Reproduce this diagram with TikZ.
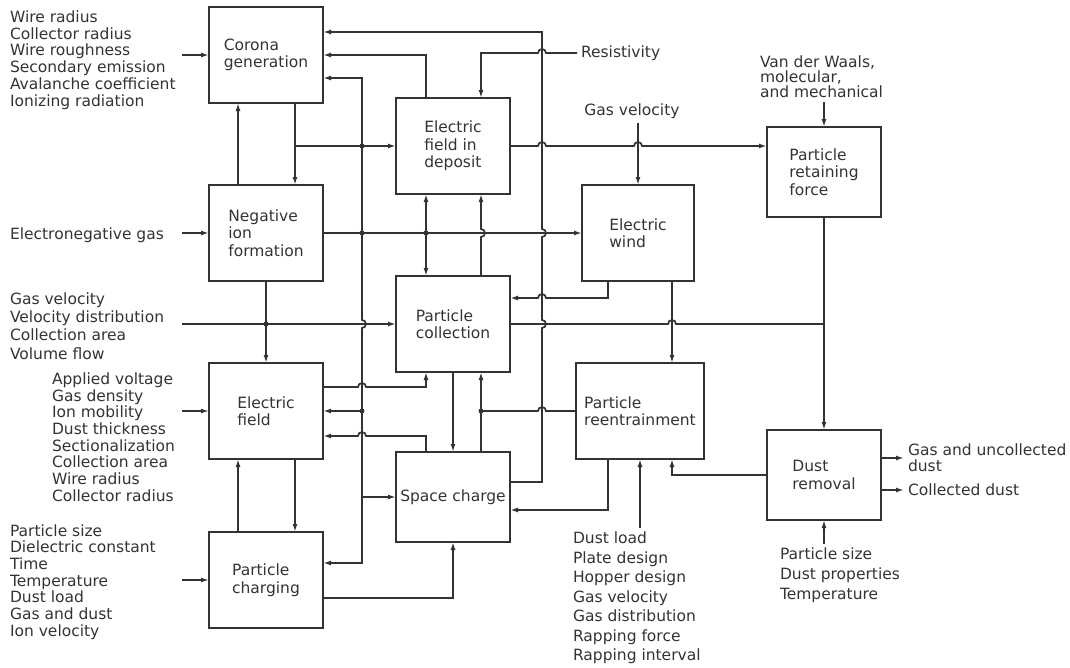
\documentclass[tikz,border=0pt]{standalone}
\usepackage{fontspec}
\setmainfont{DejaVu Sans}
\usepackage{tikz}
\usetikzlibrary{arrows.meta, positioning}

\begin{document}
\begin{tikzpicture}[
  x=1pt, y=-1pt,
  line width=1.7pt,
  color=black!80,
  >={Latex[length=8pt,width=5pt]},
  block/.style={
    draw,
    minimum width=114pt,
    minimum height=96pt,
    inner sep=2pt,
    outer sep=0pt,
    align=left,
    font=\fontsize{15.5}{17.5}\selectfont
  },
  txt/.style={align=left, inner sep=4pt, outer sep=0pt, font=\fontsize{15.5}{16.7}\selectfont},
  hop/.style={insert path={-- ([xshift=-4pt]#1) arc[start angle=180,end angle=0,radius=4pt]}},
  vhop/.style={insert path={-- ([yshift=4pt]#1) arc[start angle=90,end angle=-90,radius=4pt]}}
]
\useasboundingbox (0,0) rectangle (1070,667);
\coordinate (cin) at (182,0);
\coordinate (cA) at (238,0);
\coordinate (cB) at (295,0);
\coordinate (bus) at (362,0);
\coordinate (cC) at (426,0);
\coordinate (cD) at (481,0);
\coordinate (cE) at (542,0);
\coordinate (cF) at (608,0);
\coordinate (cG) at (672,0);

\node[block] (cor) at (266,55) {Corona\\generation};
\node[block, below=82pt of cor] (neg) {Negative\\ion\\formation};
\node[block, below=82pt of neg] (ef) {Electric\\field};
\node[block, below=73pt of ef] (pch) {Particle\\charging};
\node[block] (efd) at (453,146) {Electric\\field in\\deposit};
\node[block, below=82pt of efd] (pc) {Particle\\collection};
\node[block, minimum height=90pt, below=80pt of pc] (sc) {Space charge};
\node[block, minimum width=112pt] (ew) at (638,233) {Electric\\wind};
\node[block, minimum width=128pt] (pr) at (640,411) {Particle\\reentrainment};
\node[block, minimum height=90pt] (prf) at (824,172) {Particle\\retaining\\force};
\node[block, minimum height=90pt, below=213pt of prf] (dr) {Dust\\removal};

\node[txt, anchor=west] (corlst) at (6,60)
  {Wire radius\\Collector radius\\Wire roughness\\Secondary emission\\Avalanche coefficient\\Ionizing radiation};
\node[txt, anchor=west] (engas) at (6,235) {Electronegative gas};
\node[txt, anchor=west, font=\fontsize{15.5}{18.3}\selectfont] (gaslst) at (6,326)
  {Gas velocity\\Velocity distribution\\Collection area\\Volume flow};
\node[txt, anchor=west] (eflst) at (48,437)
  {Applied voltage\\Gas density\\Ion mobility\\Dust thickness\\Sectionalization\\Collection area\\Wire radius\\Collector radius};
\node[txt, anchor=west] (pchlst) at (6,582)
  {Particle size\\Dielectric constant\\Time\\Temperature\\Dust load\\Gas and dust\\Ion velocity};
\node[txt, anchor=west] (resist) at (577,53) {Resistivity};
\node[txt] (gasvel) at (632,111.5) {Gas velocity};
\node[txt, anchor=west, font=\fontsize{15.5}{15}\selectfont] (vdw) at (756,77)
  {Van der Waals,\\molecular,\\and mechanical};
\node[txt, anchor=north west, font=\fontsize{15.5}{19.5}\selectfont] (dustlst) at (569,528)
  {Dust load\\Plate design\\Hopper design\\Gas velocity\\Gas distribution\\Rapping force\\Rapping interval};
\node[txt, anchor=north west, font=\fontsize{15.5}{20}\selectfont] (drlst) at (776,544)
  {Particle size\\Dust properties\\Temperature};
\node[txt, anchor=west, font=\fontsize{15.5}{16}\selectfont] (gasout) at (904,458) {Gas and uncollected\\dust};
\node[txt, anchor=west] (colout) at (904,490) {Collected dust};

\draw[->] (cin |- cor) -- (cor);
\draw[->] (cin |- neg) -- (neg);
\draw[->] (cin |- pc) -- (pc);
\draw[->] (cin |- ef) -- (ef);
\draw[->] (cin |- pch) -- (pch);

\draw[->] (cor.south -| cB) -- (neg.north -| cB);
\draw[->] (neg.north -| cA) -- (cor.south -| cA);
\draw[->] (cB |- efd) -- (efd);
\draw[->] (neg) -- (ef);
\draw[->] (pch.north -| cA) -- (ef.south -| cA);
\draw[->] (ef.south -| cB) -- (pch.north -| cB);

\draw[->] (bus |- neg) |- ([yshift=-23pt]cor.east);
\draw[->] (bus |- neg) [vhop={362,324}] |- ([yshift=17pt]pch.east);
\draw[->] (bus |- ef) -- (ef);
\draw[->] (bus |- sc) -- (sc);
\draw[->] (neg) -- (ew);
\draw[->] (cC |- neg) -- (cC |- efd.south);
\draw[->] (cC |- neg) -- (cC |- pc.north);
\draw[<-] (efd.south -| cD) [vhop={481,233}] -- (pc.north -| cD);

\draw[->] (efd.north -| cC) |- (cor);
\draw[<-] (efd.north -| cD) -- (cD |- resist) [hop={542,53}] -- (resist);
\draw[<-] ([yshift=23pt]cor.east) -| (cE |- efd) [vhop={542,233}] [vhop={542,324}] |- ([yshift=15pt]sc.east);
\draw[->] (efd.east) [hop={542,146}] [hop={638,146}] -- (prf.west |- efd);
\draw[->] (gasvel.south -| ew) -- (ew);
\draw[->] (vdw.south -| prf) -- (prf);

\draw[<-] ([yshift=26pt]pc.east) [hop={542,298}] -| (ew.south -| cF);
\draw[->] (ew.south -| cG) -- (pr.north -| cG);
\draw (pc.east) [hop={672,324}] -- (prf.south |- pc);
\draw[->] (prf) -- (dr);

\draw[->] ([yshift=24pt]ef.east) [hop={362,387}] -| (pc.south -| cC);
\draw[<-] ([yshift=-25pt]ef.east) [hop={362,436}] -| (sc.north -| cC);
\draw[->] (pc) -- (sc);
\draw[->] (sc.north -| cD) -- (pc.south -| cD);
\draw (cD |- pr) [hop={542,411}] -- (pr);
\draw[->] ([yshift=-18pt]pch.east) -| (sc);
\draw[->] (pr.south -| cF) |- ([yshift=-13pt]sc.east);
\draw[->] (dustlst.north -| pr) -- (pr);
\draw[->] (dr) -| (pr.south -| cG);
\draw[->] (drlst.north -| dr) -- (dr);
\draw[->] (dr.east |- gasout) -- (gasout);
\draw[->] (dr.east |- colout) -- (colout);

\fill (bus |- efd) circle[radius=2.5pt];
\fill (bus |- neg) circle[radius=2.5pt];
\fill (cC |- neg) circle[radius=2.5pt];
\fill (neg |- pc) circle[radius=2.5pt];
\fill (bus |- ef) circle[radius=2.5pt];
\fill (cD |- pr) circle[radius=2.5pt];
\end{tikzpicture}
\end{document}
